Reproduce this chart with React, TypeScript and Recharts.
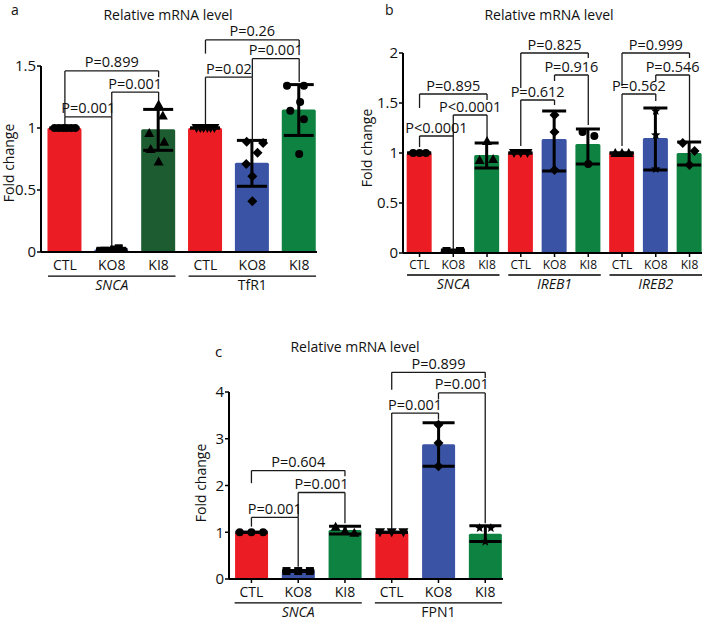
import {
  ComposedChart,
  Bar,
  Cell,
  ErrorBar,
  Scatter,
  XAxis,
  YAxis,
  ReferenceLine,
  ReferenceDot,
} from 'recharts'

const FONT = '"Open Sans", sans-serif'
const RED = '#ec1c24'
const BLUE = '#3a53a4'
const GREEN = '#0e8240'
const DARK_GREEN = '#1d5c30'
const LINE = '#1a1a1a'

const CONDITIONS = ['CTL', 'KO8', 'KI8']

// ---- panel a ----
const A_GENES = ['SNCA', 'TfR1']
const A_ITALIC = [true, false]
const A_MEANS = [1.0, 0.02, 0.99, 1.0, 0.72, 1.15]
const A_ERR = [[0, 0], [0.01, 0.01], [0.17, 0.16], [0, 0], [0.19, 0.18], [0.21, 0.2]]
const A_COLORS = [RED, BLUE, DARK_GREEN, RED, BLUE, GREEN]
const A_POINTS = [
  [1, 1, 1, 1, 1, 1],
  [0.0, 0.01, 0.0, 0.02, 0.03, 0.0],
  [1.19, 1.1, 0.96, 0.89, 0.83, 0.73],
  [1, 1, 1, 1, 1, 1],
  [0.89, 0.88, 0.8, 0.71, 0.61, 0.41],
  [1.34, 1.34, 1.21, 1.14, 1.07, 0.79],
]
const A_JITTER = [
  [-0.22, -0.13, -0.04, 0.04, 0.13, 0.22],
  [-0.25, -0.15, -0.05, 0.05, 0.15, 0.25],
  [0, 0.09, -0.2, 0.12, -0.17, 0],
  [-0.19, -0.11, -0.04, 0.04, 0.11, 0.19],
  [-0.12, 0.23, 0.11, -0.13, 0, 0],
  [-0.26, 0.1, 0.02, -0.19, 0.1, 0],
]
const A_MARKERS = ['circle', 'square', 'triangle', 'triangleDown', 'diamond', 'circle']
const A_P_LABELS = ['P=0.001', 'P=0.001', 'P=0.899', 'P=0.02', 'P=0.001', 'P=0.26']
const A_P_PAIRS = [[0, 1], [1, 2], [0, 2], [3, 4], [4, 5], [3, 5]]
// [top, left leg bottom, right leg bottom]
const A_P_HEIGHTS = [
  [1.09, 1.02, 0.04],
  [1.29, 1.09, 1.2],
  [1.46, 1.09, 1.41],
  [1.41, 1.02, 0.89],
  [1.56, 1.41, 1.37],
  [1.71, 1.6, 1.66],
]

// ---- panel b ----
const B_GENES = ['SNCA', 'IREB1', 'IREB2']
const B_ITALIC = [true, true, true]
const B_MEANS = [1.0, 0.02, 0.98, 1.0, 1.14, 1.09, 1.0, 1.15, 1.0]
const B_ERR = [[0, 0], [0.01, 0.01], [0.13, 0.12], [0, 0], [0.32, 0.28], [0.2, 0.15], [0, 0], [0.32, 0.3], [0.12, 0.11]]
const B_COLORS = [RED, BLUE, GREEN, RED, BLUE, GREEN, RED, BLUE, GREEN]
const B_POINTS = [
  [1, 1, 1],
  [0.02, 0.0, 0.02],
  [1.12, 0.93, 0.94],
  [1, 1, 1],
  [1.38, 1.21, 0.83],
  [1.21, 1.17, 0.89],
  [1, 1, 1],
  [1.42, 1.18, 0.84],
  [1.1, 1.02, 0.88],
]
const B_JITTER = [
  [-0.19, 0, 0.19],
  [-0.2, 0, 0.2],
  [0, -0.22, 0.18],
  [-0.2, 0, 0.2],
  [0, 0, 0],
  [-0.17, 0.18, 0],
  [-0.2, 0, 0.2],
  [0, 0, 0],
  [-0.2, 0.15, 0],
]
const B_MARKERS = ['circle', 'square', 'triangle', 'triangleDown', 'diamond', 'circle', 'triangle', 'star', 'diamond']
const B_P_LABELS = ['P<0.0001', 'P<0.0001', 'P=0.895', 'P=0.612', 'P=0.916', 'P=0.825', 'P=0.562', 'P=0.546', 'P=0.999']
const B_P_PAIRS = [[0, 1], [1, 2], [0, 2], [3, 4], [4, 5], [3, 5], [6, 7], [7, 8], [6, 8]]
const B_P_HEIGHTS = [
  [1.17, 1.06, 0.04],
  [1.38, 1.17, 1.13],
  [1.59, 1.45, 1.53],
  [1.53, 1.07, 1.48],
  [1.78, 1.72, 1.28],
  [2.0, 1.65, 1.95],
  [1.59, 1.07, 1.52],
  [1.78, 1.72, 1.12],
  [2.0, 1.67, 1.95],
]

// ---- panel c ----
const C_GENES = ['SNCA', 'FPN1']
const C_ITALIC = [true, false]
const C_MEANS = [1.0, 0.17, 1.05, 1.0, 2.88, 0.97]
const C_ERR = [[0, 0], [0.01, 0.01], [0.09, 0.08], [0, 0], [0.47, 0.46], [0.17, 0.17]]
const C_COLORS = [RED, BLUE, GREEN, RED, BLUE, GREEN]
const C_POINTS = [
  [1, 1, 1],
  [0.17, 0.17, 0.17],
  [1.12, 0.99, 1.03],
  [1, 1, 1],
  [3.3, 2.91, 2.41],
  [1.09, 1.09, 0.8],
]
const C_JITTER = [
  [-0.25, 0, 0.25],
  [-0.25, 0, 0.25],
  [-0.2, 0.2, 0],
  [-0.25, 0, 0.25],
  [0, 0, 0],
  [-0.12, 0.12, 0],
]
const C_MARKERS = ['circle', 'square', 'triangle', 'triangleDown', 'diamond', 'star']
const C_P_LABELS = ['P=0.001', 'P=0.001', 'P=0.604', 'P=0.001', 'P=0.001', 'P=0.899']
const C_P_PAIRS = [[0, 1], [1, 2], [0, 2], [3, 4], [4, 5], [3, 5]]
const C_P_HEIGHTS = [
  [1.32, 1.12, 0.26],
  [1.85, 1.32, 1.19],
  [2.32, 2.05, 2.2],
  [3.55, 1.05, 3.41],
  [3.98, 3.84, 1.19],
  [4.42, 4.05, 4.3],
]

function Marker({ cx, cy, kind }: { cx: number; cy: number; kind: string }) {
  if (cx == null || cy == null) return null
  if (kind === 'square') return <rect x={cx - 4} y={cy - 4} width={8} height={8} fill="#000" />
  if (kind === 'triangle')
    return <polygon points={`${cx},${cy - 5} ${cx - 5},${cy + 4} ${cx + 5},${cy + 4}`} fill="#000" />
  if (kind === 'triangleDown')
    return <polygon points={`${cx},${cy + 5} ${cx - 5},${cy - 4} ${cx + 5},${cy - 4}`} fill="#000" />
  if (kind === 'diamond')
    return <polygon points={`${cx},${cy - 5} ${cx + 5},${cy} ${cx},${cy + 5} ${cx - 5},${cy}`} fill="#000" />
  if (kind === 'star') {
    const pts: string[] = []
    for (let i = 0; i < 10; i++) {
      const r = i % 2 === 0 ? 5 : 2.2
      const a = -Math.PI / 2 + (i * Math.PI) / 5
      pts.push(`${cx + r * Math.cos(a)},${cy + r * Math.sin(a)}`)
    }
    return <polygon points={pts.join(' ')} fill="#000" />
  }
  return <circle cx={cx} cy={cy} r={4} fill="#000" />
}

type PanelProps = {
  width: number
  height: number
  margin: { top: number; right: number; bottom: number; left: number }
  yWidth: number
  yDomain: [number, number]
  yTicks: number[]
  xDomain: [number, number]
  barSize: number
  capWidth: number
  xTickFont: number
  xTickSize: number
  xTickMargin: number
  means: number[]
  errs: number[][]
  colors: string[]
  points: number[][]
  jitter: number[][]
  markers: string[]
  genes: string[]
  italic: boolean[]
  groupLineY: number
  groupPad: number
  pLabels: string[]
  pPairs: number[][]
  pHeights: number[][]
}

function Panel(p: PanelProps) {
  const data = p.means.map((v, i) => ({ x: i, value: v, err: p.errs[i] }))
  const ticks = p.means.map((_, i) => i)
  const segProps = { stroke: LINE, strokeWidth: 1.3, ifOverflow: 'visible' as const }
  return (
    <ComposedChart width={p.width} height={p.height} data={data} margin={p.margin}>
      <XAxis
        type="number"
        dataKey="x"
        domain={p.xDomain}
        ticks={ticks}
        interval={0}
        allowDataOverflow
        tickFormatter={(i: number) => CONDITIONS[i % 3]}
        axisLine={{ stroke: '#000', strokeWidth: 2 }}
        tickLine={p.xTickSize > 0 ? { stroke: '#000', strokeWidth: 1.5 } : false}
        tickSize={p.xTickSize}
        tickMargin={p.xTickMargin}
        tick={{ fill: '#111', fontSize: p.xTickFont, fontFamily: FONT }}
        height={30}
      />
      {/* separate axis for the dots so the jittered x values don't shrink the bar band */}
      <XAxis xAxisId="pts" type="number" dataKey="x" domain={p.xDomain} allowDataOverflow hide />
      <YAxis
        type="number"
        domain={p.yDomain}
        ticks={p.yTicks}
        interval={0}
        allowDataOverflow
        width={p.yWidth}
        axisLine={{ stroke: '#000', strokeWidth: 2 }}
        tickLine={{ stroke: '#000', strokeWidth: 1.5 }}
        tickSize={4}
        tickMargin={1}
        tick={{ fill: '#111', fontSize: 15, fontFamily: FONT }}
      />
      <Bar dataKey="value" barSize={p.barSize} radius={[1.5, 1.5, 0, 0]} isAnimationActive={false}>
        {data.map((_, i) => (
          <Cell key={i} fill={p.colors[i]} />
        ))}
        <ErrorBar dataKey="err" width={p.capWidth} strokeWidth={3} stroke="#000" direction="y" />
      </Bar>
      {p.points.map((vals, i) => (
        <Scatter
          key={`s${i}`}
          xAxisId="pts"
          data={vals.map((y, k) => ({ x: i + p.jitter[i][k], y }))}
          dataKey="y"
          isAnimationActive={false}
          shape={(sp: any) => <Marker cx={sp.cx} cy={sp.cy} kind={p.markers[i]} />}
        />
      ))}
      {p.pPairs.map(([i, j], k) => {
        const [top, lb, rb] = p.pHeights[k]
        return [
          <ReferenceLine key={`l${k}`} segment={[{ x: i, y: lb }, { x: i, y: top }]} {...segProps} />,
          <ReferenceLine key={`t${k}`} segment={[{ x: i, y: top }, { x: j, y: top }]} {...segProps} />,
          <ReferenceLine key={`r${k}`} segment={[{ x: j, y: top }, { x: j, y: rb }]} {...segProps} />,
          <ReferenceDot
            key={`p${k}`}
            x={(i + j) / 2}
            y={top}
            r={0}
            ifOverflow="visible"
            shape={(dp: any) => (
              <text x={dp.cx} y={dp.cy - 3.5} textAnchor="middle" fontSize={14.5} fontFamily={FONT} fill="#111">
                {p.pLabels[k]}
              </text>
            )}
          />,
        ]
      })}
      {p.genes.map((g, k) => {
        const a = k * 3
        const b = k * 3 + 2
        return [
          <ReferenceLine
            key={`g${k}`}
            segment={[{ x: a - p.groupPad, y: p.groupLineY }, { x: b + p.groupPad, y: p.groupLineY }]}
            stroke="#000"
            strokeWidth={1.3}
            ifOverflow="visible"
          />,
          <ReferenceDot
            key={`gl${k}`}
            x={a + 1}
            y={p.groupLineY}
            r={0}
            ifOverflow="visible"
            shape={(dp: any) => (
              <text
                x={dp.cx}
                y={dp.cy + 14}
                textAnchor="middle"
                fontSize={14}
                fontFamily={FONT}
                fontStyle={p.italic[k] ? 'italic' : 'normal'}
                fill="#111"
              >
                {g}
              </text>
            )}
          />,
        ]
      })}
    </ComposedChart>
  )
}

const textStyle = { fontFamily: FONT, fill: '#111' }

export default function App() {
  return (
    <div style={{ position: 'absolute', left: 0, top: 0, width: 708, height: 622, background: '#fff', overflow: 'hidden' }}>
      <div style={{ position: 'absolute', left: 0, top: 0 }}>
        <Panel
          width={354}
          height={300}
          margin={{ top: 66, right: 37, bottom: 18, left: 0 }}
          yWidth={41}
          yDomain={[0, 1.5]}
          yTicks={[0, 0.5, 1, 1.5]}
          xDomain={[-0.51, 5.38]}
          barSize={34}
          capWidth={15}
          xTickFont={14}
          xTickSize={0}
          xTickMargin={8}
          means={A_MEANS}
          errs={A_ERR}
          colors={A_COLORS}
          points={A_POINTS}
          jitter={A_JITTER}
          markers={A_MARKERS}
          genes={A_GENES}
          italic={A_ITALIC}
          groupLineY={-0.194}
          groupPad={0.36}
          pLabels={A_P_LABELS}
          pPairs={A_P_PAIRS}
          pHeights={A_P_HEIGHTS}
        />
      </div>
      <div style={{ position: 'absolute', left: 354, top: 0 }}>
        <Panel
          width={354}
          height={300}
          margin={{ top: 53, right: 6, bottom: 17, left: 0 }}
          yWidth={49}
          yDomain={[0, 2]}
          yTicks={[0, 0.5, 1, 1.5, 2]}
          xDomain={[-0.49, 8.37]}
          barSize={25}
          capWidth={12}
          xTickFont={12}
          xTickSize={4}
          xTickMargin={3}
          means={B_MEANS}
          errs={B_ERR}
          colors={B_COLORS}
          points={B_POINTS}
          jitter={B_JITTER}
          markers={B_MARKERS}
          genes={B_GENES}
          italic={B_ITALIC}
          groupLineY={-0.22}
          groupPad={0.37}
          pLabels={B_P_LABELS}
          pPairs={B_P_PAIRS}
          pHeights={B_P_HEIGHTS}
        />
      </div>
      <div style={{ position: 'absolute', left: 180, top: 310 }}>
        <Panel
          width={340}
          height={312}
          margin={{ top: 82, right: 17, bottom: 13, left: 0 }}
          yWidth={49}
          yDomain={[0, 4]}
          yTicks={[0, 1, 2, 3, 4]}
          xDomain={[-0.48, 5.38]}
          barSize={33}
          capWidth={16}
          xTickFont={14}
          xTickSize={4}
          xTickMargin={4}
          means={C_MEANS}
          errs={C_ERR}
          colors={C_COLORS}
          points={C_POINTS}
          jitter={C_JITTER}
          markers={C_MARKERS}
          genes={C_GENES}
          italic={C_ITALIC}
          groupLineY={-0.51}
          groupPad={0.36}
          pLabels={C_P_LABELS}
          pPairs={C_P_PAIRS}
          pHeights={C_P_HEIGHTS}
        />
      </div>
      <svg width={708} height={622} style={{ position: 'absolute', left: 0, top: 0, pointerEvents: 'none' }}>
        <text x={11} y={15} fontSize={14} {...textStyle}>a</text>
        <text x={168} y={20} fontSize={14} textAnchor="middle" {...textStyle}>Relative mRNA level</text>
        <text transform="translate(14,163) rotate(-90)" fontSize={14} textAnchor="middle" {...textStyle}>Fold change</text>
        <text x={385} y={15} fontSize={14} {...textStyle}>b</text>
        <text x={549} y={20} fontSize={14} textAnchor="middle" {...textStyle}>Relative mRNA level</text>
        <text transform="translate(372,148) rotate(-90)" fontSize={14} textAnchor="middle" {...textStyle}>Fold change</text>
        <text x={215} y={357} fontSize={15} {...textStyle}>c</text>
        <text x={355} y={352} fontSize={14} textAnchor="middle" {...textStyle}>Relative mRNA level</text>
        <text transform="translate(206,483) rotate(-90)" fontSize={14} textAnchor="middle" {...textStyle}>Fold change</text>
      </svg>
    </div>
  )
}
